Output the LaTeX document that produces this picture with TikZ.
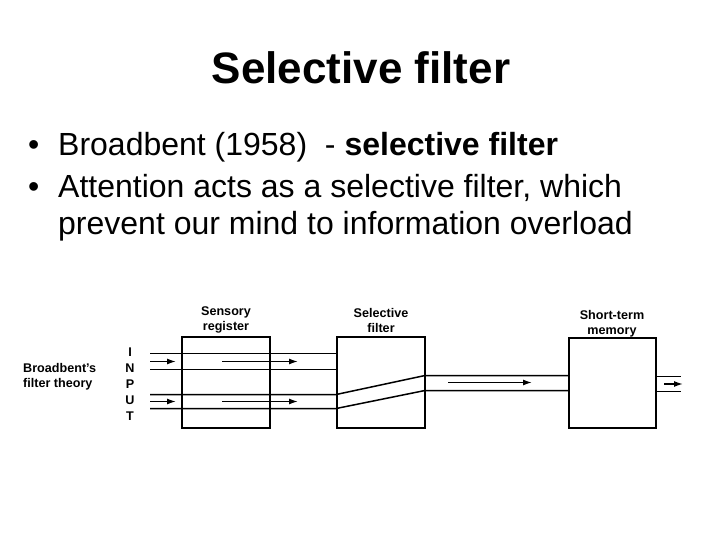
\documentclass[tikz,border=0pt]{standalone}
\usepackage{fontspec}
\setmainfont{Liberation Sans}
\usetikzlibrary{arrows.meta}

\tikzset{
  stagebox/.style={draw, line width=1.6pt, minimum width=88pt, minimum height=91pt, inner sep=0pt},
  stagelabel/.style={font=\bfseries\fontsize{12.6}{15}\selectfont, align=center, inner sep=0pt},
  channel/.style={line width=1.5pt},
  flow/.style={line width=1.5pt, -{Latex[length=9pt, width=6pt]}},
  bullettext/.style={anchor=base west, inner sep=0pt, font=\fontsize{32}{36}\selectfont}
}

\begin{document}
\begin{tikzpicture}[x=1pt, y=-1pt]
\path[use as bounding box] (0,0) rectangle (720,540);
\node[anchor=base, inner sep=0pt, font=\bfseries\fontsize{44}{50}\selectfont] (title) at (361,84) {Selective filter};
\node[bullettext] (dot1) at (28,156) {\textbullet};
\node[bullettext] (item1) at (58,156) {Broadbent (1958)~ - \textbf{selective filter}};
\node[bullettext] (dot2) at (28,198) {\textbullet};
\node[bullettext] (item2) at (58,198) {Attention acts as a selective filter, which};
\node[bullettext] (item3) at (58,234) {prevent our mind to information overload};
\node[stagebox] (sens) at (226,382.5) {};
\node[stagebox] (filt) at (381,382.5) {};
\node[stagebox, minimum width=87pt, minimum height=90pt] (stm) at (612.5,383) {};
\node[stagelabel, anchor=south] (senslab) at (226,333) {Sensory\\register};
\node[stagelabel, anchor=south] (filtlab) at (381,333) {Selective\\filter};
\node[stagelabel, anchor=south] (stmlab) at (612,337) {Short-term\\memory};
\node[stagelabel, align=left, anchor=west] (theory) at (23,377) {Broadbent's\\filter theory};
\foreach \ch [count=\i] in {I,N,P,U,T}
  \node[stagelabel] (in\i) at (130,336+16*\i) {\ch};
\coordinate (a1) at (150,353.5);
\coordinate (a2) at (150,369.5);
\coordinate (b1) at (150,394.5);
\coordinate (b2) at (150,408.5);
\coordinate (c1) at (425,375.5);
\coordinate (c2) at (425,390.5);
\coordinate (o1) at (681,376.5);
\coordinate (o2) at (681,391.5);
\draw[channel] (a1) -- (a1 -| filt.west);
\draw[channel] (a2) -- (a2 -| filt.west);
\draw[channel] (b1) -- (b1 -| filt.west) -- (c1) -- (c1 -| stm.west);
\draw[channel] (b2) -- (b2 -| filt.west) -- (c2) -- (c2 -| stm.west);
\draw[channel] (o1 -| stm.east) -- (o1);
\draw[channel] (o2 -| stm.east) -- (o2);
\draw[flow] (150,361.5) -- (176,361.5);
\draw[flow] (222,361.5) -- (298,361.5);
\draw[flow] (150,401.5) -- (176,401.5);
\draw[flow] (222,401.5) -- (298,401.5);
\draw[flow] (448,382.5) -- (532,382.5);
\draw[flow] (664,384) -- (683,384);
\end{tikzpicture}
\end{document}
